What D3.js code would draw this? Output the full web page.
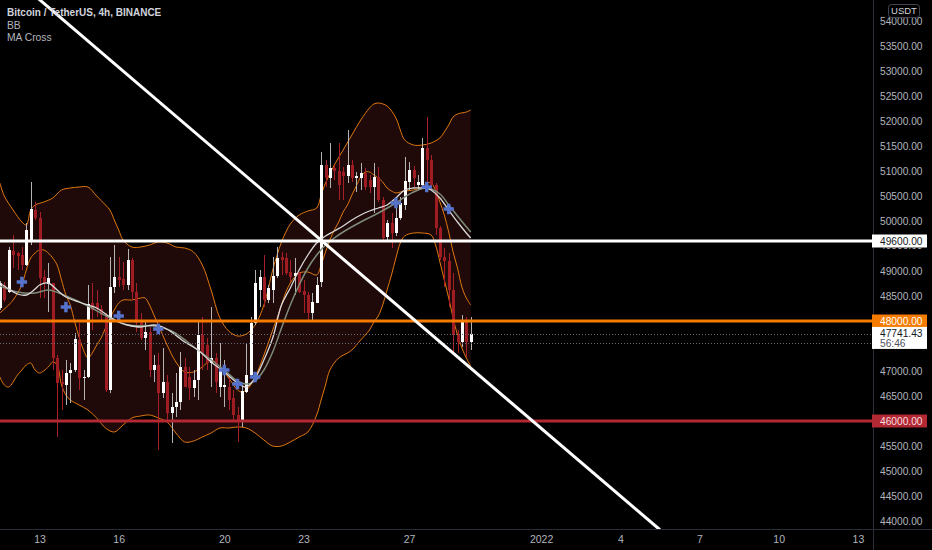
<!DOCTYPE html>
<html><head><meta charset="utf-8">
<script src="https://cdn.jsdelivr.net/npm/d3@7/dist/d3.min.js"></script>
<style>html,body{margin:0;padding:0;background:#000;}svg{display:block;}</style>
</head><body>
<svg id="c" width="932" height="550"></svg>
<script>
// ---------- DATA (4h candles, first bar = 2021-12-11 12:00 UTC) ----------
const firstBar = Date.UTC(2021, 11, 11, 12);
const opens = [48260,48720,48580,49400,49360,49320,49120,49620,50220,50060,
48880,48740,48760,47260,46780,46720,46960,47020,47620,46860,
46880,48360,48360,48240,48120,46620,48680,48880,48840,48720,
49220,48580,48020,47660,47780,47020,47120,46560,46780,46160,
46280,46380,47080,46880,46660,46820,47720,47520,47160,47260,
46680,46680,46680,46460,46120,45980,46580,46920,47960,48620,
48880,48420,48620,48900,49280,49260,48980,48900,48960,48600,
48520,48160,48360,48780,51120,50860,51060,51000,50980,50900,
51120,50860,50860,50960,50820,50680,50880,50420,49680,49960,
49760,50060,50320,50780,51020,50720,50720,51460,51220,50720,
49860,49280,49200,48620,47720,47580,48020,47580];
const highs = [48800,48780,49480,49720,49380,49480,49960,50780,50380,50180,
49020,49160,48760,47320,47020,47220,47160,47760,47960,47020,
48720,48760,48620,48320,48160,49280,49520,49280,49180,49440,
49260,48760,48160,47980,47880,47320,47360,47460,46920,46560,
46960,47380,47260,47080,47020,47980,48080,47660,48280,47360,
47560,47220,46880,46620,46280,46720,47560,48080,49020,49020,
49320,48720,49280,49480,49380,49360,49220,49260,48980,48820,
48580,48560,48880,51380,51220,51560,51120,51560,51080,51820,
51220,50980,51160,51060,50920,51160,51080,50480,50020,50160,
50280,50480,51280,51180,51100,50920,51660,52080,51320,50760,
49900,49460,49360,48960,47820,48120,48080,48080];
const lows = [48220,48380,48560,49060,49020,49020,49100,49520,50020,48460,
48460,48180,47020,45680,46220,46320,46360,46980,46620,46420,
46860,47820,48080,48020,46580,46560,48560,48680,48620,48620,
48420,47780,47620,47420,46880,46780,45420,46460,45960,45560,
46080,46220,46680,46420,46480,46420,47020,47020,46680,46560,
46480,46280,46220,46020,45580,45880,46560,46880,47920,48280,
48280,48360,48360,48860,48920,48920,48780,48520,48560,48160,
47980,48020,48360,48680,50680,50660,50820,50420,50420,50760,
50780,50580,50620,50620,50560,50160,50380,49620,49620,49460,
49700,50020,50220,50620,50680,50620,50660,50780,50620,49720,
49220,48680,48280,47360,47360,47480,47280,47420];
const closes = [48760,48420,49420,49320,49300,49120,49820,50240,50060,48860,
48760,48860,47260,46760,46740,46960,47020,47640,46860,46880,
48340,48220,48240,48120,46620,48680,48880,48820,48720,49220,
48580,47960,47660,47780,47020,47120,46560,46780,46160,46280,
46380,47080,46680,46660,46820,47720,47360,47160,47260,46780,
47060,46720,46420,46120,46020,46600,46920,47960,48760,48880,
48420,48660,48900,49260,49220,48960,48880,48960,48580,48520,
48160,48380,48720,51120,50860,51060,51000,50720,50900,51120,
50860,50900,50960,50680,50680,50880,50420,49660,49960,49760,
50060,50360,50800,51020,50860,50780,51460,51220,50720,49860,
49280,49200,48620,47720,47580,48020,47580,47741.43];

// Bollinger Bands: [bar index, price]
const bbUpper = [[0,50760],[1,50500],[3,50220],[5,49980],[6,49920],[7,50220],[8,50320],[10,50380],[12,50460],[14,50620],[16,50660],[18,50680],[20,50680],[22,50500],[24,50320],[25,50220],[26,50020],[27,49820],[28,49620],[30,49480],[32,49480],[34,49520],[36,49580],[38,49560],[40,49480],[42,49460],[44,49380],[46,49120],[48,48620],[50,48060],[52,47800],[54,47700],[56,47740],[58,47920],[60,48320],[62,49020],[63,49320],[64,49580],[65,49780],[66,49940],[68,50120],[70,50200],[72,50260],[73,50520],[74,50760],[76,51120],[78,51420],[80,51720],[82,52020],[84,52260],[85,52340],[86,52360],[88,52300],[90,52060],[91,51820],[92,51620],[94,51520],[96,51520],[98,51560],[100,51660],[101,51780],[102,51920],[103,52080],[104,52140],[106,52180],[107,52220]];
const bbBasis = [[0,48160],[2,48320],[3,48420],[5,48720],[6,49020],[7,49260],[8,49360],[9,49420],[10,49420],[11,49360],[12,49260],[13,49120],[14,48820],[15,48520],[16,48320],[17,47980],[18,47680],[19,47420],[20,47260],[21,47360],[22,47520],[23,47660],[24,47860],[25,48060],[26,48220],[27,48360],[28,48420],[30,48420],[32,48460],[33,48460],[34,48320],[35,48120],[36,47920],[37,47720],[38,47520],[40,47180],[42,46980],[44,46980],[46,47080],[48,47220],[50,47080],[52,46860],[54,46620],[55,46580],[56,46620],[57,46720],[58,46880],[59,47080],[60,47320],[61,47560],[62,47820],[63,48060],[64,48320],[65,48580],[66,48760],[67,48880],[68,48960],[70,48980],[72,48920],[73,49120],[74,49380],[75,49620],[76,49820],[77,49980],[78,50180],[79,50320],[80,50520],[81,50700],[82,50880],[83,50980],[84,50980],[85,50920],[86,50860],[87,50780],[88,50660],[89,50600],[90,50560],[91,50580],[92,50600],[94,50620],[96,50680],[97,50760],[98,50760],[99,50620],[100,50380],[101,50120],[102,49780],[103,49380],[104,49060],[105,48680],[106,48460],[107,48320]];
const bbLower = [[0,46880],[1,46720],[2,46680],[4,46920],[5,47020],[6,47120],[7,47160],[8,47020],[9,46960],[11,47080],[12,47180],[13,47120],[14,46720],[15,46520],[16,46420],[18,46320],[20,46220],[22,46060],[24,45860],[26,45780],[28,45920],[30,46060],[32,46100],[34,46120],[36,46060],[38,45980],[40,45760],[42,45580],[44,45600],[46,45680],[48,45760],[50,45860],[52,45860],[54,45880],[56,45860],[58,45760],[60,45620],[62,45500],[64,45500],[66,45580],[68,45680],[70,45780],[72,46120],[73,46420],[74,46720],[75,47020],[77,47260],[79,47360],[80,47420],[82,47620],[84,47820],[85,47980],[86,48100],[87,48320],[88,48620],[89,48920],[90,49260],[91,49560],[92,49700],[94,49760],[96,49760],[98,49720],[99,49520],[100,49180],[101,48820],[102,48460],[103,48060],[104,47720],[105,47460],[106,47260],[107,47100]];

// MA Cross lines: [bar index, price]
const maFast = [[0,48760],[2,48640],[4,48540],[6,48520],[8,48640],[9,48720],[11,48760],[13,48620],[15,48480],[18,48380],[20,48320],[22,48260],[25,48080],[27,47980],[29,47920],[32,47880],[35,47920],[37,47880],[39,47780],[42,47580],[45,47420],[48,47180],[51,46980],[54,46760],[56,46680],[58,46860],[60,47220],[62,47660],[64,48320],[66,48660],[68,49020],[70,49320],[72,49560],[74,49700],[76,49800],[78,49900],[80,50020],[82,50120],[84,50200],[86,50260],[88,50320],[90,50460],[92,50620],[94,50660],[96,50660],[97,50660],[98,50620],[100,50460],[102,50220],[104,49980],[106,49760],[107,49660]];
const maSlow = [[0,48700],[4,48580],[8,48560],[11,48620],[15,48500],[20,48300],[25,48060],[29,47920],[35,47900],[39,47800],[45,47420],[51,47020],[54,46800],[56,46740],[58,46800],[60,47020],[62,47380],[64,47860],[66,48320],[68,48720],[70,49060],[72,49320],[74,49520],[76,49660],[78,49780],[82,49980],[86,50160],[90,50360],[92,50480],[94,50580],[97,50660],[100,50540],[102,50320],[104,50100],[107,49780]];
const maCrosses = [[5,48780],[15,48280],[27,48100],[36,47840],[51,47020],[54,46740],[58,46880],[90,50360],[97,50680],[102,50240]];

// Drawn levels and trendline
const levelPrices = [49600, 48000, 46000];
const levelColors = ["#ffffff", "#f57c00", "#b22833"];
const levelTextColors = ["#131722", "#ffffff", "#f7dfe1"];
const trendLine = [[0,55105],[150,43825]];
const lastPrice = 47741.43;
const dottedPrices = [47741.43, 47560];
const countdown = "56:46";

// Axes
const priceTicks = d3.range(44000, 54001, 500);
const hiddenTicks = [48000, 47500, 46000];   // fully covered by the label boxes
const timeTickDates = ["2021-12-13","2021-12-16","2021-12-20","2021-12-23","2021-12-27","2022-01-01","2022-01-04","2022-01-07","2022-01-10","2022-01-13"];
const timeTickLabels = ["13","16","20","23","27","2022","4","7","10","13"];

const legendLines = ["Bitcoin / TetherUS, 4h, BINANCE", "BB", "MA Cross"];

// ---------- DRAWING ----------
const W = 932, H = 550, PR = 873, PB = 529;
const BAR = 4 * 3600 * 1000;
const FONT = "'Liberation Sans', Arial, sans-serif";
const svg = d3.select("#c");

const x = d3.scaleUtc()
  .domain([new Date(firstBar), new Date(Date.UTC(2022, 0, 13))])
  .range([-0.1, -0.1 + 195 * 4.4]);
const y = d3.scaleLinear().domain([44000, 54000]).range([521, 21]);
const bx = i => x(new Date(firstBar + i * BAR));

svg.append("rect").attr("width", W).attr("height", H).attr("fill", "#000");
const defs = svg.append("defs");
defs.append("clipPath").attr("id", "plot")
  .append("rect").attr("x", 0).attr("y", 0).attr("width", PR).attr("height", PB);
// the 49500 label only peeks out below the 49600 box
defs.append("clipPath").attr("id", "under49600")
  .append("rect").attr("x", PR).attr("y", y(49600) + 6.5).attr("width", 60).attr("height", 20);
const g = svg.append("g").attr("clip-path", "url(#plot)");

const curve = d3.curveCatmullRom.alpha(0.5);
const lineGen = d3.line().x(d => bx(d[0])).y(d => y(d[1])).curve(curve);

// BB fill
const upPath = lineGen(bbUpper);
const loPath = lineGen(bbLower.slice().reverse());
g.append("path").attr("d", upPath + "L" + loPath.slice(1) + "Z").attr("fill", "#1f0909");

// BB lines
[bbUpper, bbBasis, bbLower].forEach(s => {
  g.append("path").attr("d", lineGen(s)).attr("fill", "none")
    .attr("stroke", "#e0780f").attr("stroke-width", 1);
});

// candles
const bars = opens.map((o, i) => ({i, o, h: highs[i], l: lows[i], c: closes[i]}));
const upCol = "#ffffff", upWick = "#b4b4b4", dnCol = "#9f1c23", dnWick = "#a81f27";
g.selectAll("line.wick").data(bars).join("line").attr("class", "wick")
  .attr("x1", d => Math.round(bx(d.i)) + 0.5).attr("x2", d => Math.round(bx(d.i)) + 0.5)
  .attr("y1", d => y(d.h)).attr("y2", d => y(d.l))
  .attr("stroke", d => d.c >= d.o ? upWick : dnWick).attr("stroke-width", 1);
g.selectAll("rect.body").data(bars).join("rect").attr("class", "body")
  .attr("x", d => Math.round(bx(d.i)) - 1).attr("width", 3)
  .attr("y", d => y(Math.max(d.o, d.c)))
  .attr("height", d => Math.max(1, Math.abs(y(d.o) - y(d.c))))
  .attr("fill", d => d.c >= d.o ? upCol : dnCol);

// MA lines
g.append("path").attr("d", lineGen(maSlow)).attr("fill", "none")
  .attr("stroke", "#7f8c7a").attr("stroke-width", 1.5);
g.append("path").attr("d", lineGen(maFast)).attr("fill", "none")
  .attr("stroke", "#d9d9d9").attr("stroke-width", 1.3);
g.selectAll("path.cross").data(maCrosses).join("path").attr("class", "cross")
  .attr("d", d3.symbol().type(d3.symbolCross).size(60))
  .attr("transform", d => `translate(${bx(d[0])},${y(d[1])})`)
  .attr("fill", "#5673cc");

// dotted price lines
dottedPrices.forEach(p => {
  g.append("line").attr("x1", 0).attr("x2", PR)
    .attr("y1", Math.round(y(p)) + 0.5).attr("y2", Math.round(y(p)) + 0.5)
    .attr("stroke", "#6a6d78").attr("stroke-width", 1).attr("stroke-dasharray", "1,2");
});

// horizontal levels
levelPrices.forEach((p, k) => {
  g.append("line").attr("x1", 0).attr("x2", PR).attr("y1", y(p)).attr("y2", y(p))
    .attr("stroke", levelColors[k]).attr("stroke-width", 3);
});

// diagonal trend line
g.append("line")
  .attr("x1", bx(trendLine[0][0])).attr("y1", y(trendLine[0][1]))
  .attr("x2", bx(trendLine[1][0])).attr("y2", y(trendLine[1][1]))
  .attr("stroke", "#ffffff").attr("stroke-width", 3);

// separators
svg.append("line").attr("x1", PR + 0.5).attr("x2", PR + 0.5).attr("y1", 0).attr("y2", H)
  .attr("stroke", "#2a2e39");
svg.append("line").attr("x1", 0).attr("x2", W).attr("y1", PB + 0.5).attr("y2", PB + 0.5)
  .attr("stroke", "#2a2e39");

// price axis
const yAxis = svg.append("g").attr("transform", `translate(${PR},0)`)
  .call(d3.axisRight(y).tickValues(priceTicks.filter(v => !hiddenTicks.includes(v)))
    .tickFormat(d => d.toFixed(2)).tickSize(0).tickPadding(7));
yAxis.select(".domain").remove();
yAxis.selectAll("text").attr("fill", "#b2b5be").style("font", `10.2px ${FONT}`);
yAxis.selectAll(".tick").filter(d => d === 49500).attr("clip-path", null)
  .each(function () {
    d3.select(this).select("text").attr("clip-path", null);
  });
// clip 49500 (the clip rect is in svg coords, so wrap in an untransformed group)
{
  const t = yAxis.selectAll(".tick").filter(d => d === 49500);
  t.remove();
  svg.append("g").attr("clip-path", "url(#under49600)")
    .append("text").attr("x", 880).attr("y", y(49500)).attr("dy", "0.32em")
    .attr("fill", "#b2b5be").style("font", `10.2px ${FONT}`).text((49500).toFixed(2));
}

// time axis
const xAxis = svg.append("g").attr("transform", `translate(0,${PB})`)
  .call(d3.axisBottom(x).tickValues(timeTickDates.map(s => new Date(s + "T00:00:00Z")))
    .tickFormat((d, i) => timeTickLabels[i]).tickSize(0).tickPadding(7));
xAxis.select(".domain").remove();
xAxis.selectAll("text").attr("fill", "#b2b5be").style("font", `10.5px ${FONT}`);

// level labels on price scale
levelPrices.forEach((p, k) => {
  const yy = y(p);
  svg.append("rect").attr("x", PR - 1).attr("y", yy - 6.5).attr("width", 55).attr("height", 13)
    .attr("fill", levelColors[k]);
  svg.append("text").attr("x", 880).attr("y", yy).attr("dy", "0.35em")
    .attr("fill", levelTextColors[k]).style("font", `10.2px ${FONT}`).text(p.toFixed(2));
});
// last price label
{
  const yy = y(lastPrice);
  svg.append("rect").attr("x", PR - 1).attr("y", yy - 7).attr("width", 55).attr("height", 22)
    .attr("fill", "#ffffff");
  svg.append("text").attr("x", 880).attr("y", yy).attr("dy", "0.35em")
    .attr("fill", "#131722").style("font", `10.2px ${FONT}`).text(lastPrice.toFixed(2));
  svg.append("text").attr("x", 880).attr("y", yy + 10).attr("dy", "0.35em")
    .attr("fill", "#50535e").style("font", `10.2px ${FONT}`).text(countdown);
}

// currency box
svg.append("rect").attr("x", 888.5).attr("y", 4.5).attr("width", 31).attr("height", 13).attr("rx", 3)
  .attr("fill", "#000").attr("stroke", "#434651");
svg.append("text").attr("x", 904).attr("y", 11).attr("dy", "0.35em").attr("text-anchor", "middle")
  .attr("fill", "#d1d4dc").style("font", `9.5px ${FONT}`).text("USDT");

// legend
legendLines.forEach((t, k) => {
  svg.append("text").attr("x", 7).attr("y", 12.5 + k * 12.5).attr("dy", "0.35em")
    .attr("fill", k === 0 ? "#d1d4dc" : "#b2b5be")
    .style("font", `${k === 0 ? "bold 10px" : "10.3px"} ${FONT}`).text(t);
});
</script>
</body></html>
